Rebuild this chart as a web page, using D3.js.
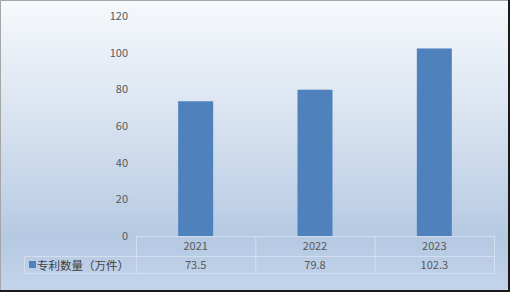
<!DOCTYPE html>
<html>
<head>
<meta charset="utf-8">
<script src="https://cdn.jsdelivr.net/npm/d3@7"></script>
<style>
  html, body { margin: 0; padding: 0; background: #fff; }
  svg { display: block; }
</style>
</head>
<body>
<svg width="510" height="292"></svg>
<script>
// data
var years = ["2021", "2022", "2023"];
var patents = [73.5, 79.8, 102.3];
var seriesName = "专利数量（万件）";
var yTicks = [0, 20, 40, 60, 80, 100, 120];

var svg = d3.select("svg"),
    width = +svg.attr("width"),
    height = +svg.attr("height");

var font = "'Microsoft YaHei', 'Noto Sans CJK SC', 'DejaVu Sans', sans-serif";

// background gradient
var defs = svg.append("defs");
var grad = defs.append("linearGradient")
    .attr("id", "bg")
    .attr("x1", 0).attr("y1", 0).attr("x2", 0).attr("y2", 1);
grad.append("stop").attr("offset", "0%").attr("stop-color", "#f6f9fc");
grad.append("stop").attr("offset", "40%").attr("stop-color", "#d9e3f0");
grad.append("stop").attr("offset", "82%").attr("stop-color", "#b5c9e3");
grad.append("stop").attr("offset", "100%").attr("stop-color", "#c3d4ea");

svg.append("rect")
    .attr("x", 0).attr("y", 0)
    .attr("width", width).attr("height", height)
    .attr("fill", "url(#bg)");

// frame: light top/left, dark bottom/right
svg.append("path")
    .attr("d", "M0.5," + (height - 1) + "V0.5H" + (width - 1))
    .attr("fill", "none").attr("stroke", "#a6a6a6");
svg.append("path")
    .attr("d", "M" + (width - 1) + ",0V" + (height - 1) + "H0")
    .attr("fill", "none").attr("stroke", "#1a1a1a").attr("stroke-width", 2);

var plotLeft = 136, plotRight = 494, plotTop = 16, plotBottom = 236;

var x = d3.scaleBand()
    .domain(years)
    .range([plotLeft, plotRight])
    .paddingInner(0)
    .paddingOuter(0);

var y = d3.scaleLinear()
    .domain([0, 120])
    .range([plotBottom, plotTop]);

// y axis labels
var yAxis = svg.append("g")
    .attr("transform", "translate(" + (plotLeft - 8) + ",0)")
    .call(d3.axisLeft(y).tickValues(yTicks).tickSize(0).tickPadding(0));
yAxis.select(".domain").remove();
yAxis.selectAll("text")
    .attr("fill", "#595959")
    .style("font-family", font)
    .style("font-size", "11px");

// bars
var barW = 35;
svg.append("g")
  .selectAll("rect")
  .data(patents)
  .enter().append("rect")
    .attr("x", function(d, i) { return x(years[i]) + x.bandwidth() / 2 - barW / 2; })
    .attr("y", function(d) { return y(d); })
    .attr("width", barW)
    .attr("height", function(d) { return y(0) - y(d); })
    .attr("fill", "#4f81bd");

// data table
var row1 = plotBottom, row2 = 256, row3 = 273, legendLeft = 24;
var grid = svg.append("g")
    .attr("stroke", "#d3dfee")
    .attr("stroke-width", 1)
    .attr("fill", "none");

grid.append("line").attr("x1", plotLeft).attr("x2", plotRight).attr("y1", row1 + 0.5).attr("y2", row1 + 0.5);
grid.append("line").attr("x1", legendLeft).attr("x2", plotRight).attr("y1", row2 + 0.5).attr("y2", row2 + 0.5);
grid.append("line").attr("x1", legendLeft).attr("x2", plotRight).attr("y1", row3 + 0.5).attr("y2", row3 + 0.5);
grid.append("line").attr("x1", legendLeft + 0.5).attr("x2", legendLeft + 0.5).attr("y1", row2).attr("y2", row3);
years.concat(["end"]).forEach(function(yr, i) {
  var xx = i < years.length ? x(yr) : plotRight;
  grid.append("line").attr("x1", xx + 0.5).attr("x2", xx + 0.5).attr("y1", row1).attr("y2", row3);
});

var textStyle = function(sel) {
  sel.attr("fill", "#595959")
     .attr("text-anchor", "middle")
     .style("font-family", font)
     .style("font-size", "11px");
};

svg.append("g")
  .selectAll("text")
  .data(years)
  .enter().append("text")
    .attr("x", function(d) { return x(d) + x.bandwidth() / 2; })
    .attr("y", (row1 + row2) / 2 + 4)
    .text(function(d) { return d; })
    .call(textStyle);

svg.append("g")
  .selectAll("text")
  .data(patents)
  .enter().append("text")
    .attr("x", function(d, i) { return x(years[i]) + x.bandwidth() / 2; })
    .attr("y", (row2 + row3) / 2 + 4)
    .text(function(d) { return d; })
    .call(textStyle);

// legend key + series name
svg.append("rect")
    .attr("x", 29).attr("y", 261)
    .attr("width", 7).attr("height", 7)
    .attr("fill", "#4f81bd");
svg.append("text")
    .attr("x", 37).attr("y", (row2 + row3) / 2 + 5)
    .attr("fill", "#404040")
    .style("font-family", font)
    .style("font-size", "11.5px")
    .text(seriesName);
</script>
</body>
</html>
